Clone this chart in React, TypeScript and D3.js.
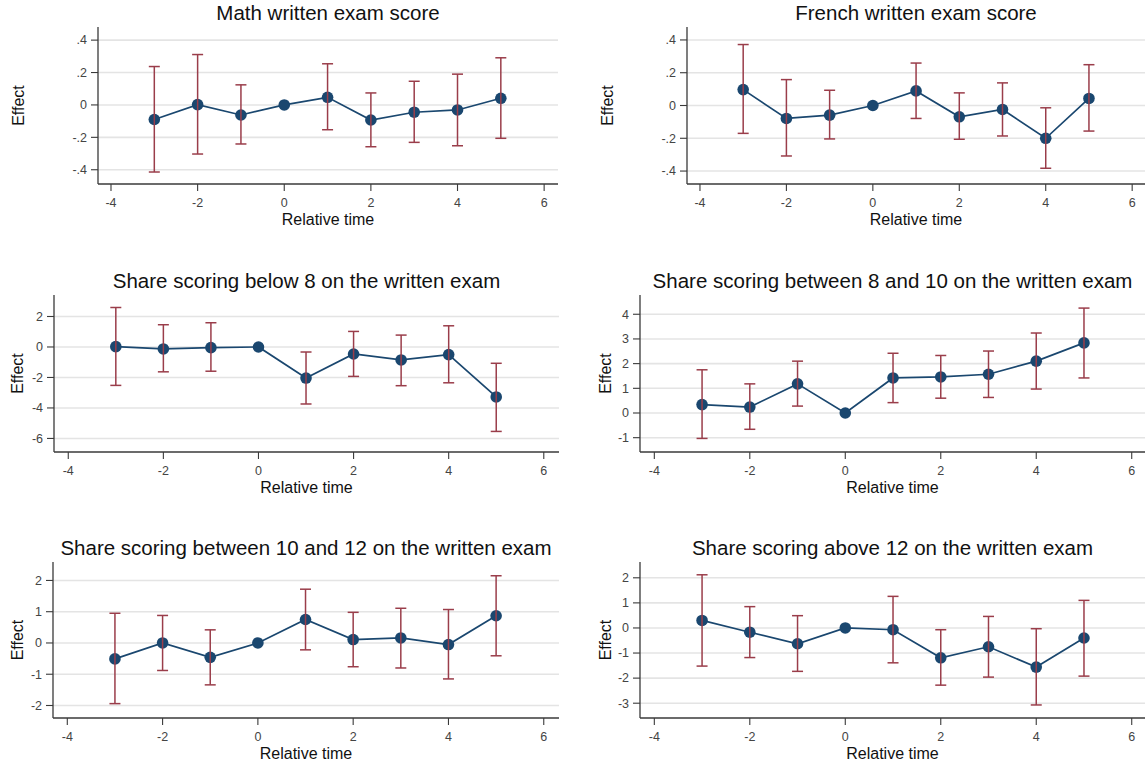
import React from "react";
import * as d3 from "d3";

// ---------- data ----------
const relTime = [-3, -2, -1, 0, 1, 2, 3, 4, 5];
const xTicks = [-4, -2, 0, 2, 4, 6];

const titles = [
  "Math written exam score",
  "French written exam score",
  "Share scoring below 8 on the written exam",
  "Share scoring between 8 and 10 on the written exam",
  "Share scoring between 10 and 12 on the written exam",
  "Share scoring above 12 on the written exam",
];

const mathEst = [-0.09, 0.002, -0.062, 0, 0.047, -0.093, -0.045, -0.031, 0.041];
const mathLo = [-0.414, -0.303, -0.241, null, -0.153, -0.258, -0.231, -0.252, -0.206];
const mathHi = [0.237, 0.311, 0.124, null, 0.254, 0.074, 0.146, 0.19, 0.291];

const frenchEst = [0.097, -0.079, -0.059, 0, 0.089, -0.069, -0.024, -0.2, 0.043];
const frenchLo = [-0.17, -0.308, -0.204, null, -0.079, -0.206, -0.186, -0.383, -0.156];
const frenchHi = [0.372, 0.158, 0.093, null, 0.259, 0.077, 0.138, -0.014, 0.249];

const below8Est = [0.02, -0.13, -0.04, 0, -2.04, -0.46, -0.85, -0.5, -3.28];
const below8Lo = [-2.52, -1.63, -1.59, null, -3.74, -1.93, -2.54, -2.35, -5.54];
const below8Hi = [2.59, 1.46, 1.59, null, -0.33, 1.02, 0.78, 1.39, -1.07];

const b8to10Est = [0.34, 0.24, 1.18, 0, 1.42, 1.46, 1.57, 2.1, 2.84];
const b8to10Lo = [-1.03, -0.66, 0.28, null, 0.42, 0.6, 0.63, 0.97, 1.42];
const b8to10Hi = [1.75, 1.18, 2.1, null, 2.42, 2.33, 2.51, 3.24, 4.25];

const b10to12Est = [-0.51, 0.0, -0.46, 0, 0.75, 0.11, 0.16, -0.05, 0.87];
const b10to12Lo = [-1.94, -0.88, -1.34, null, -0.22, -0.76, -0.8, -1.15, -0.41];
const b10to12Hi = [0.95, 0.88, 0.42, null, 1.72, 0.98, 1.11, 1.07, 2.15];

const above12Est = [0.3, -0.17, -0.63, 0, -0.07, -1.19, -0.75, -1.56, -0.4];
const above12Lo = [-1.52, -1.18, -1.73, null, -1.39, -2.28, -1.96, -3.07, -1.92];
const above12Hi = [2.12, 0.85, 0.49, null, 1.26, -0.07, 0.46, -0.03, 1.1];

const yTicksSmall = [-0.4, -0.2, 0, 0.2, 0.4];
const yTickLabelsSmall = ["-.4", "-.2", "0", ".2", ".4"];
const yTicksBelow8 = [-6, -4, -2, 0, 2];
const yTicks8to10 = [-1, 0, 1, 2, 3, 4];
const yTicks10to12 = [-2, -1, 0, 1, 2];
const yTicksAbove12 = [-3, -2, -1, 0, 1, 2];

// ---------- layout (positions / styles) ----------
const W = 1145;
const H = 765;
const X_DOMAIN: [number, number] = [-4.3, 6.32];
const FONT = "'Liberation Sans', Arial, Helvetica, sans-serif";
const NAVY = "#1a476f";
const MAROON = "#9a3d4a";
const GRID = "#e4e4e4";
const AXIS = "#3a3a3a";
const TICKTEXT = "#444";

type Panel = {
  title: string;
  est: number[];
  lo: (number | null)[];
  hi: (number | null)[];
  yTicks: number[];
  yLabels: string[];
  box: { left: number; top: number; right: number; bottom: number; labelX: number };
  yDomain: [number, number];
};

const panels: Panel[] = [
  {
    title: titles[0], est: mathEst, lo: mathLo, hi: mathHi,
    yTicks: yTicksSmall, yLabels: yTickLabelsSmall,
    box: { left: 98, top: 27, right: 558, bottom: 184, labelX: 18 },
    yDomain: [-0.488, 0.481],
  },
  {
    title: titles[1], est: frenchEst, lo: frenchLo, hi: frenchHi,
    yTicks: yTicksSmall, yLabels: yTickLabelsSmall,
    box: { left: 687, top: 27, right: 1146, bottom: 184, labelX: 607 },
    yDomain: [-0.479, 0.479],
  },
  {
    title: titles[2], est: below8Est, lo: below8Lo, hi: below8Hi,
    yTicks: yTicksBelow8, yLabels: yTicksBelow8.map(String),
    box: { left: 54, top: 295, right: 559, bottom: 452, labelX: 17 },
    yDomain: [-6.89, 3.41],
  },
  {
    title: titles[3], est: b8to10Est, lo: b8to10Lo, hi: b8to10Hi,
    yTicks: yTicks8to10, yLabels: yTicks8to10.map(String),
    box: { left: 640, top: 295, right: 1147, bottom: 452, labelX: 605 },
    yDomain: [-1.58, 4.78],
  },
  {
    title: titles[4], est: b10to12Est, lo: b10to12Lo, hi: b10to12Hi,
    yTicks: yTicks10to12, yLabels: yTicks10to12.map(String),
    box: { left: 53, top: 562, right: 559, bottom: 718, labelX: 17 },
    yDomain: [-2.4, 2.59],
  },
  {
    title: titles[5], est: above12Est, lo: above12Lo, hi: above12Hi,
    yTicks: yTicksAbove12, yLabels: yTicksAbove12.map(String),
    box: { left: 640, top: 562, right: 1147, bottom: 718, labelX: 605 },
    yDomain: [-3.59, 2.63],
  },
];

function PanelView({ p }: { p: Panel }) {
  const { left, top, right, bottom, labelX } = p.box;
  const x = d3.scaleLinear().domain(X_DOMAIN).range([left, right]);
  const y = d3.scaleLinear().domain(p.yDomain).range([bottom, top]);
  const line = d3
    .line<number>()
    .x((_, i) => x(relTime[i]))
    .y((d) => y(d));
  const plotCx = (left + Math.min(right, W)) / 2;
  const cap = 5.5;
  return (
    <g>
      {p.yTicks.map((t) => (
        <line key={"g" + t} x1={left} x2={right} y1={y(t)} y2={y(t)} stroke={GRID} strokeWidth={1.6} />
      ))}
      <line x1={left} x2={left} y1={top} y2={bottom} stroke={AXIS} strokeWidth={1.3} />
      <line x1={left} x2={right} y1={bottom} y2={bottom} stroke={AXIS} strokeWidth={1.3} />
      {p.yTicks.map((t, i) => (
        <g key={"yt" + t}>
          <line x1={left - 7} x2={left} y1={y(t)} y2={y(t)} stroke={AXIS} strokeWidth={1.1} />
          <text x={left - 11} y={y(t)} dy="0.35em" textAnchor="end" fontSize={12.5} fill={TICKTEXT} fontFamily={FONT}>
            {p.yLabels[i]}
          </text>
        </g>
      ))}
      {xTicks.map((t) => (
        <g key={"xt" + t}>
          <line x1={x(t)} x2={x(t)} y1={bottom} y2={bottom + 7} stroke={AXIS} strokeWidth={1.1} />
          <text x={x(t)} y={bottom + 19} dy="0.35em" textAnchor="middle" fontSize={12.5} fill={TICKTEXT} fontFamily={FONT}>
            {t}
          </text>
        </g>
      ))}
      <path d={line(p.est) || ""} fill="none" stroke={NAVY} strokeWidth={1.7} />
      {p.est.map((v, i) => (
        <circle key={"m" + i} cx={x(relTime[i])} cy={y(v)} r={5.8} fill={NAVY} />
      ))}
      {p.est.map((_, i) => {
        const lo = p.lo[i];
        const hi = p.hi[i];
        if (lo == null || hi == null) return null;
        const cx = x(relTime[i]);
        return (
          <g key={"e" + i} stroke={MAROON} strokeWidth={1.5}>
            <line x1={cx} x2={cx} y1={y(lo)} y2={y(hi)} />
            <line x1={cx - cap} x2={cx + cap} y1={y(lo)} y2={y(lo)} />
            <line x1={cx - cap} x2={cx + cap} y1={y(hi)} y2={y(hi)} />
          </g>
        );
      })}
      <text x={plotCx} y={top - 14} dy="0.35em" textAnchor="middle" fontSize={20.5} fill="#111" fontFamily={FONT}>
        {p.title}
      </text>
      <text x={plotCx} y={bottom + 35} dy="0.35em" textAnchor="middle" fontSize={16} fill="#111" fontFamily={FONT}>
        Relative time
      </text>
      <text
        transform={`translate(${labelX},${(top + bottom) / 2}) rotate(-90)`}
        dy="0.35em"
        textAnchor="middle"
        fontSize={16}
        fill="#111"
        fontFamily={FONT}
      >
        Effect
      </text>
    </g>
  );
}

export default function App() {
  return (
    <svg
      width={W}
      height={H}
      viewBox={`0 0 ${W} ${H}`}
      style={{ position: "absolute", left: 0, top: 0, background: "#fff" }}
    >
      <rect x={0} y={0} width={W} height={H} fill="#fff" />
      {panels.map((p, i) => (
        <PanelView key={i} p={p} />
      ))}
    </svg>
  );
}
